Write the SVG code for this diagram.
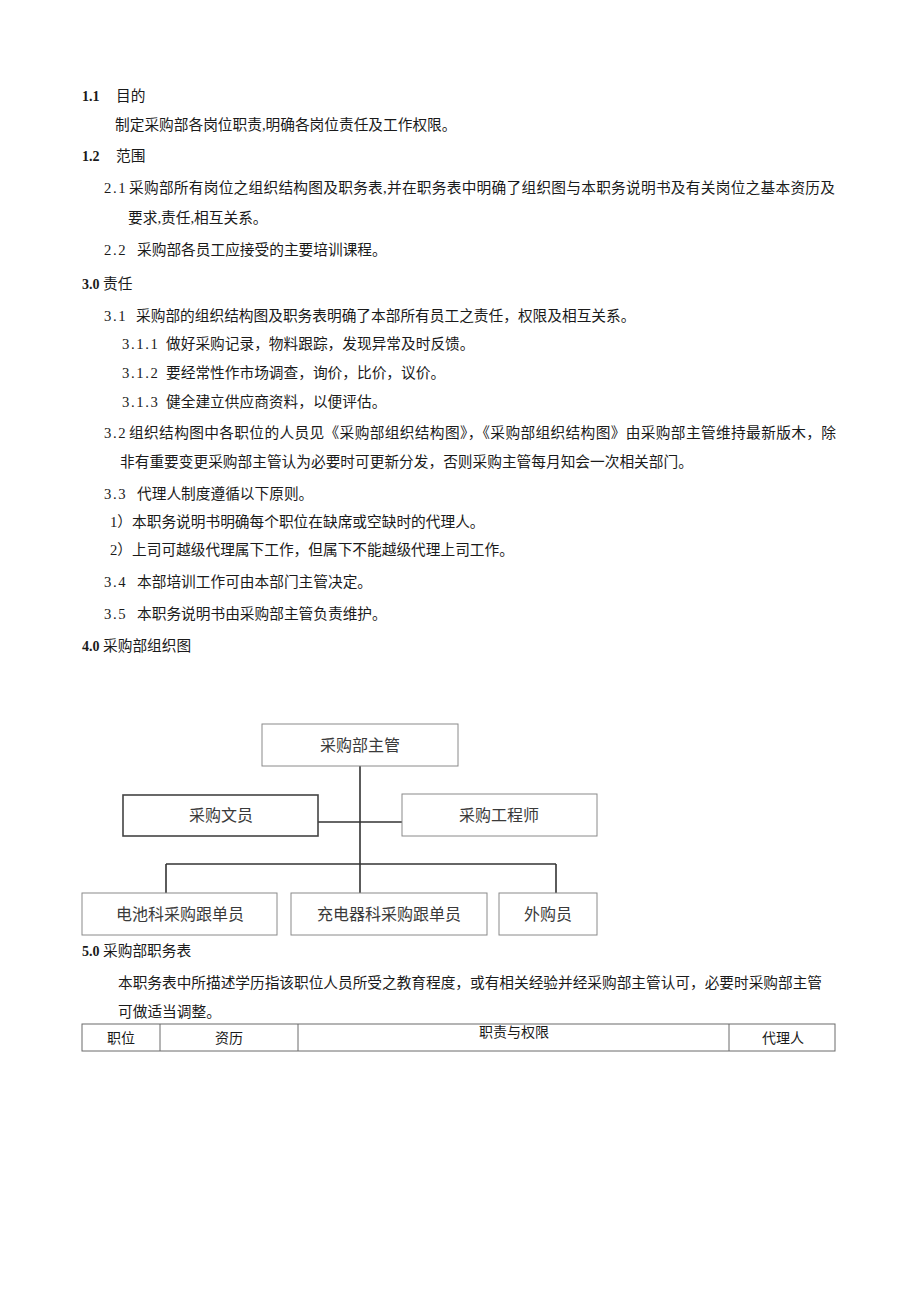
<svg xmlns="http://www.w3.org/2000/svg" width="920" height="1301" viewBox="0 0 920 1301">
<style>
text{font-family:"Liberation Serif","Noto Sans CJK SC",serif;fill:#1a1a1a;font-size:14.7px}
.b{font-weight:bold;font-size:14px}
.n{letter-spacing:1.6px}
.box{fill:#fff;stroke:#8a8a8a;stroke-width:1}
.boxd{fill:#fff;stroke:#444;stroke-width:1.6}
.lbl{font-family:"Noto Sans CJK SC",sans-serif;font-size:16px;fill:#3a3a3a;text-anchor:middle}
.con{stroke:#333;stroke-width:1.6;fill:none}
.tb{stroke:#6a6a6a;stroke-width:1;fill:none}
.th{text-anchor:middle;font-size:14px}
</style>
<rect width="920" height="1301" fill="#fff"/>
<g id="text-body">
<text x="82" y="101" class="b">1.1</text><text x="116" y="101">目的</text>
<text x="115" y="130">制定采购部各岗位职责,明确各岗位责任及工作权限。</text>
<text x="82" y="161" class="b">1.2</text><text x="116" y="161">范围</text>
<text x="104" y="193" class="n">2.1</text><text x="129" y="193" textLength="706" lengthAdjust="spacing">采购部所有岗位之组织结构图及职务表,并在职务表中明确了组织图与本职务说明书及有关岗位之基本资历及</text>
<text x="128" y="223">要求,责任,相互关系。</text>
<text x="104" y="255" class="n">2.2</text><text x="137" y="255">采购部各员工应接受的主要培训课程。</text>
<text x="82" y="289" class="b">3.0</text><text x="103" y="289">责任</text>
<text x="104" y="321" class="n">3.1</text><text x="136" y="321">采购部的组织结构图及职务表明确了本部所有员工之责任，权限及相互关系。</text>
<text x="122" y="349" class="n">3.1.1</text><text x="166" y="349">做好采购记录，物料跟踪，发现异常及时反馈。</text>
<text x="122" y="378" class="n">3.1.2</text><text x="166" y="378">要经常性作市场调查，询价，比价，议价。</text>
<text x="122" y="407" class="n">3.1.3</text><text x="166" y="407">健全建立供应商资料，以便评估。</text>
<text x="104" y="438" class="n">3.2</text><text x="129" y="438" textLength="707" lengthAdjust="spacing">组织结构图中各职位的人员见《采购部组织结构图》，《采购部组织结构图》由采购部主管维持最新版木，除</text>
<text x="120" y="467">非有重要变更采购部主管认为必要时可更新分发，否则采购主管每月知会一次相关部门。</text>
<text x="104" y="499" class="n">3.3</text><text x="137" y="499">代理人制度遵循以下原则。</text>
<text x="110" y="527">1）本职务说明书明确每个职位在缺席或空缺时的代理人。</text>
<text x="110" y="555">2）上司可越级代理属下工作，但属下不能越级代理上司工作。</text>
<text x="104" y="587" class="n">3.4</text><text x="137" y="587">本部培训工作可由本部门主管决定。</text>
<text x="104" y="619" class="n">3.5</text><text x="137" y="619">本职务说明书由采购部主管负责维护。</text>
<text x="82" y="651" class="b">4.0</text><text x="103" y="651">采购部组织图</text>
<text x="82" y="956" class="b">5.0</text><text x="103" y="956">采购部职务表</text>
<text x="118" y="988" textLength="704" lengthAdjust="spacing">本职务表中所描述学历指该职位人员所受之教育程度，或有相关经验并经采购部主管认可，必要时采购部主管</text>
<text x="118" y="1017">可做适当调整。</text>
</g>
<g id="connectors">
<line class="con" x1="360" y1="766" x2="360" y2="893"/>
<line class="con" x1="318" y1="822" x2="402" y2="822"/>
<line class="con" x1="166" y1="864" x2="556" y2="864"/>
<line class="con" x1="166" y1="864" x2="166" y2="893"/>
<line class="con" x1="556" y1="864" x2="556" y2="893"/>
</g>
<g id="n-head"><rect class="box" x="262" y="724" width="196" height="42"/><text class="lbl" x="360" y="751">采购部主管</text></g>
<g id="n-clerk"><rect class="boxd" x="123" y="795" width="195" height="41"/><text class="lbl" x="221" y="821">采购文员</text></g>
<g id="n-engineer"><rect class="box" x="402" y="794" width="195" height="42"/><text class="lbl" x="499" y="821">采购工程师</text></g>
<g id="n-battery"><rect class="box" x="82" y="893" width="195" height="42"/><text class="lbl" x="180" y="920">电池科采购跟单员</text></g>
<g id="n-charger"><rect class="box" x="291" y="893" width="196" height="42"/><text class="lbl" x="389" y="920">充电器科采购跟单员</text></g>
<g id="n-outsource"><rect class="box" x="499" y="893" width="98" height="42"/><text class="lbl" x="548" y="920">外购员</text></g>
<g id="table">
<rect class="tb" x="82" y="1024" width="753" height="27"/>
<line class="tb" x1="160" y1="1024" x2="160" y2="1051"/>
<line class="tb" x1="298" y1="1024" x2="298" y2="1051"/>
<line class="tb" x1="729" y1="1024" x2="729" y2="1051"/>
<text class="th" x="121" y="1043">职位</text>
<text class="th" x="229" y="1043">资历</text>
<text class="th" x="514" y="1037">职责与权限</text>
<text class="th" x="783" y="1043">代理人</text>
</g>
</svg>
